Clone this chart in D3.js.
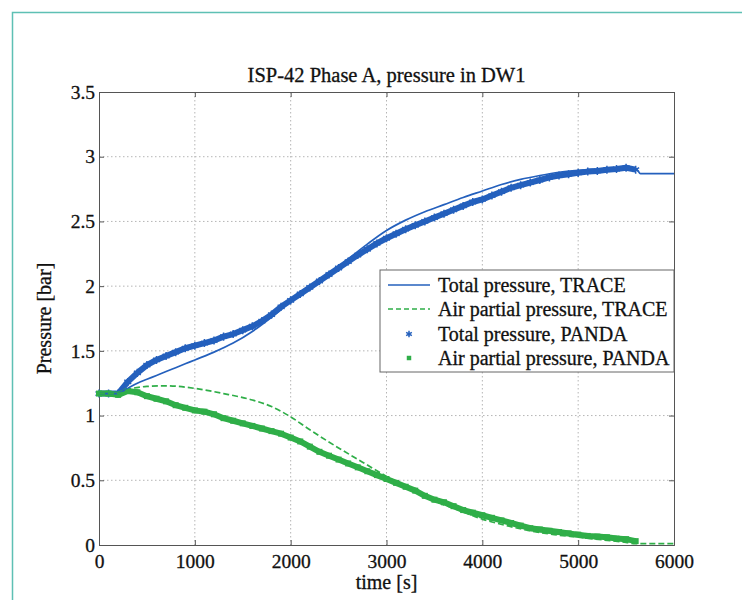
<!DOCTYPE html>
<html>
<head>
<meta charset="utf-8">
<script src="https://cdn.jsdelivr.net/npm/d3@7"></script>
<style>
  body { margin: 0; background: #fff; }
  svg text { font-family: "Liberation Serif", "Times New Roman", serif !important; fill: #111; stroke: #111; stroke-width: 0.3px; }
</style>
</head>
<body>
<script>
// Data (time in s, pressure in bar)
var traceTotalT = [0, 200, 250, 300, 400, 500, 600, 700, 800, 900, 1000, 1200, 1400, 1600, 1800, 2000, 2200, 2400, 2600, 2800, 3000, 3200, 3400, 3600, 3800, 4000, 4200, 4400, 4600, 4800, 5000, 5200, 5400, 5600, 5650, 6000];
var traceTotalP = [1.17, 1.17, 1.19, 1.21, 1.25, 1.28, 1.31, 1.34, 1.37, 1.40, 1.43, 1.49, 1.56, 1.65, 1.76, 1.88, 1.98, 2.09, 2.21, 2.325, 2.43, 2.51, 2.575, 2.63, 2.685, 2.735, 2.785, 2.825, 2.855, 2.88, 2.895, 2.905, 2.91, 2.91, 2.87, 2.87];

var traceAirT = [0, 200, 300, 500, 700, 1000, 1300, 1600, 1800, 2000, 2200, 2500, 2750, 3000, 3250, 3500, 3750, 4000, 4250, 4500, 4750, 5000, 5250, 5500, 5600, 6000];
var traceAirP = [1.17, 1.17, 1.20, 1.225, 1.23, 1.21, 1.17, 1.12, 1.07, 0.99, 0.89, 0.75, 0.64, 0.53, 0.43, 0.34, 0.27, 0.20, 0.15, 0.11, 0.08, 0.06, 0.04, 0.02, 0.01, 0.01];

var pandaT = [0, 100, 200, 300, 400, 500, 600, 700, 800, 900, 1000, 1100, 1200, 1300, 1400, 1500, 1600, 1700, 1800, 1900, 2000, 2100, 2200, 2300, 2400, 2500, 2600, 2700, 2800, 2900, 3000, 3100, 3200, 3300, 3400, 3500, 3600, 3700, 3800, 3900, 4000, 4100, 4200, 4300, 4400, 4500, 4600, 4700, 4800, 4900, 5000, 5100, 5200, 5300, 5400, 5500, 5600];
var pandaTotalP = [1.17, 1.17, 1.17, 1.26, 1.33, 1.39, 1.43, 1.46, 1.49, 1.52, 1.54, 1.56, 1.58, 1.61, 1.63, 1.66, 1.69, 1.73, 1.78, 1.84, 1.89, 1.94, 1.99, 2.04, 2.09, 2.14, 2.19, 2.24, 2.285, 2.33, 2.37, 2.405, 2.44, 2.47, 2.50, 2.53, 2.56, 2.59, 2.62, 2.65, 2.67, 2.70, 2.73, 2.76, 2.78, 2.80, 2.82, 2.84, 2.855, 2.865, 2.875, 2.885, 2.89, 2.90, 2.905, 2.915, 2.90];
var pandaAirP = [1.17, 1.17, 1.16, 1.19, 1.18, 1.15, 1.13, 1.11, 1.08, 1.06, 1.04, 1.03, 1.01, 0.98, 0.96, 0.94, 0.92, 0.90, 0.88, 0.86, 0.83, 0.80, 0.76, 0.72, 0.69, 0.66, 0.63, 0.60, 0.57, 0.54, 0.51, 0.48, 0.45, 0.42, 0.38, 0.35, 0.33, 0.30, 0.27, 0.25, 0.23, 0.21, 0.19, 0.17, 0.15, 0.13, 0.12, 0.11, 0.10, 0.09, 0.08, 0.07, 0.065, 0.06, 0.05, 0.045, 0.03];

var xTicks = [0, 1000, 2000, 3000, 4000, 5000, 6000];
var yTicks = [0, 0.5, 1, 1.5, 2, 2.5, 3, 3.5];
var legendLabels = ["Total pressure, TRACE", "Air partial pressure, TRACE", "Total pressure, PANDA", "Air partial pressure, PANDA"];

var blue = "#2460bd";
var green = "#2fae48";

var svgWidth = 742;
var svgHeight = 600;
var margin = { top: 92, right: 68, bottom: 55, left: 99 };
var width = svgWidth - margin.left - margin.right;
var height = svgHeight - margin.top - margin.bottom;

var svg = d3.select("body")
  .append("svg")
  .attr("width", svgWidth)
  .attr("height", svgHeight);

// teal frame of the page
svg.append("path")
  .attr("d", "M12.5,600 L12.5,12.5 L742,12.5")
  .attr("fill", "none")
  .attr("stroke", "#5ec0b4")
  .attr("stroke-width", 1.5);

var chartGroup = svg.append("g")
  .attr("transform", `translate(${margin.left}, ${margin.top})`);

var x = d3.scaleLinear().domain([0, 6000]).range([0, width]);
var y = d3.scaleLinear().domain([0, 3.5]).range([height, 0]);

// dotted grid
chartGroup.append("g")
  .selectAll("line")
  .data(xTicks.slice(1, -1))
  .enter().append("line")
  .attr("x1", d => x(d)).attr("x2", d => x(d))
  .attr("y1", 0).attr("y2", height)
  .attr("stroke", "#b5b5b5")
  .attr("stroke-dasharray", "1.5,2.5");

chartGroup.append("g")
  .selectAll("line")
  .data(yTicks.slice(1, -1))
  .enter().append("line")
  .attr("y1", d => y(d)).attr("y2", d => y(d))
  .attr("x1", 0).attr("x2", width)
  .attr("stroke", "#b5b5b5")
  .attr("stroke-dasharray", "1.5,2.5");

// axes, MATLAB style: ticks pointing in, box all round
var bottomAxis = d3.axisBottom(x).tickValues(xTicks).tickSize(-5).tickPadding(9).tickFormat(d3.format("d"));
var leftAxis = d3.axisLeft(y).tickValues(yTicks).tickSize(-5).tickPadding(4).tickFormat(d => d);
var topAxis = d3.axisTop(x).tickValues(xTicks).tickSize(-5).tickFormat("");
var rightAxis = d3.axisRight(y).tickValues(yTicks).tickSize(-5).tickFormat("");

var xAxis = chartGroup.append("g").attr("transform", `translate(0, ${height})`).call(bottomAxis);
var yAxis = chartGroup.append("g").call(leftAxis);
chartGroup.append("g").call(topAxis);
chartGroup.append("g").attr("transform", `translate(${width}, 0)`).call(rightAxis);

chartGroup.selectAll(".domain").attr("stroke", "#555");
chartGroup.selectAll(".tick line").attr("stroke", "#555");
chartGroup.selectAll(".tick text").attr("font-size", "19.5px");

// series
var line = d3.line().x(d => x(d[0])).y(d => y(d[1]));
var pandaTotal = pandaT.map((t, i) => [t, pandaTotalP[i]]);
var pandaAir = pandaT.map((t, i) => [t, pandaAirP[i]]);
var traceTotal = traceTotalT.map((t, i) => [t, traceTotalP[i]]);
var traceAir = traceAirT.map((t, i) => [t, traceAirP[i]]);

// measured data, drawn as dense marker bands
chartGroup.append("path")
  .datum(pandaTotal)
  .attr("d", line)
  .attr("fill", "none")
  .attr("stroke", blue)
  .attr("stroke-width", 6)
  .attr("stroke-linejoin", "round");

chartGroup.append("g")
  .selectAll("path")
  .data(pandaTotal)
  .enter().append("path")
  .attr("transform", d => `translate(${x(d[0])}, ${y(d[1])})`)
  .attr("d", d3.symbol().type(d3.symbolAsterisk).size(45))
  .attr("fill", "none")
  .attr("stroke", blue)
  .attr("stroke-width", 1.5);

chartGroup.append("path")
  .datum(pandaAir)
  .attr("d", line)
  .attr("fill", "none")
  .attr("stroke", green)
  .attr("stroke-width", 6)
  .attr("stroke-linejoin", "round");

chartGroup.append("g")
  .selectAll("path")
  .data(pandaAir)
  .enter().append("path")
  .attr("transform", d => `translate(${x(d[0])}, ${y(d[1])})`)
  .attr("d", d3.symbol().type(d3.symbolSquare).size(36))
  .attr("fill", green);

// TRACE computations
chartGroup.append("path")
  .datum(traceTotal)
  .attr("d", line.curve(d3.curveMonotoneX))
  .attr("fill", "none")
  .attr("stroke", blue)
  .attr("stroke-width", 1.7);

chartGroup.append("path")
  .datum(traceAir)
  .attr("d", line.curve(d3.curveMonotoneX))
  .attr("fill", "none")
  .attr("stroke", green)
  .attr("stroke-width", 1.7)
  .attr("stroke-dasharray", "6,3");

// title and axis labels
svg.append("text")
  .attr("x", margin.left + width / 2)
  .attr("y", 82)
  .attr("text-anchor", "middle")
  .attr("font-size", "20.5px")
  .text("ISP-42 Phase A, pressure in DW1");

svg.append("text")
  .attr("x", margin.left + width / 2)
  .attr("y", 589)
  .attr("text-anchor", "middle")
  .attr("font-size", "20px")
  .text("time [s]");

svg.append("text")
  .attr("transform", `translate(51, ${margin.top + height / 2}) rotate(-90)`)
  .attr("text-anchor", "middle")
  .attr("font-size", "20px")
  .text("Pressure [bar]");

// legend
var legend = svg.append("g").attr("transform", "translate(380, 270)");
legend.append("rect")
  .attr("width", 294)
  .attr("height", 102)
  .attr("fill", "#fff")
  .attr("stroke", "#666");

var rowY = [15, 39, 64, 88];
legendLabels.forEach(function (label, i) {
  var row = legend.append("g").attr("transform", `translate(0, ${rowY[i]})`);
  if (i === 0 || i === 1) {
    row.append("line")
      .attr("x1", 8).attr("x2", 50)
      .attr("stroke", i === 0 ? blue : green)
      .attr("stroke-width", 1.7)
      .attr("stroke-dasharray", i === 1 ? "5,3" : null);
  } else if (i === 2) {
    row.append("path")
      .attr("transform", "translate(29, 0)")
      .attr("d", d3.symbol().type(d3.symbolAsterisk).size(30))
      .attr("fill", "none")
      .attr("stroke", blue)
      .attr("stroke-width", 1.5);
  } else {
    row.append("path")
      .attr("transform", "translate(29, 0)")
      .attr("d", d3.symbol().type(d3.symbolSquare).size(20))
      .attr("fill", green);
  }
  row.append("text")
    .attr("x", 58)
    .attr("dy", "0.35em")
    .attr("font-size", "20px")
    .text(label);
});
</script>
</body>
</html>
